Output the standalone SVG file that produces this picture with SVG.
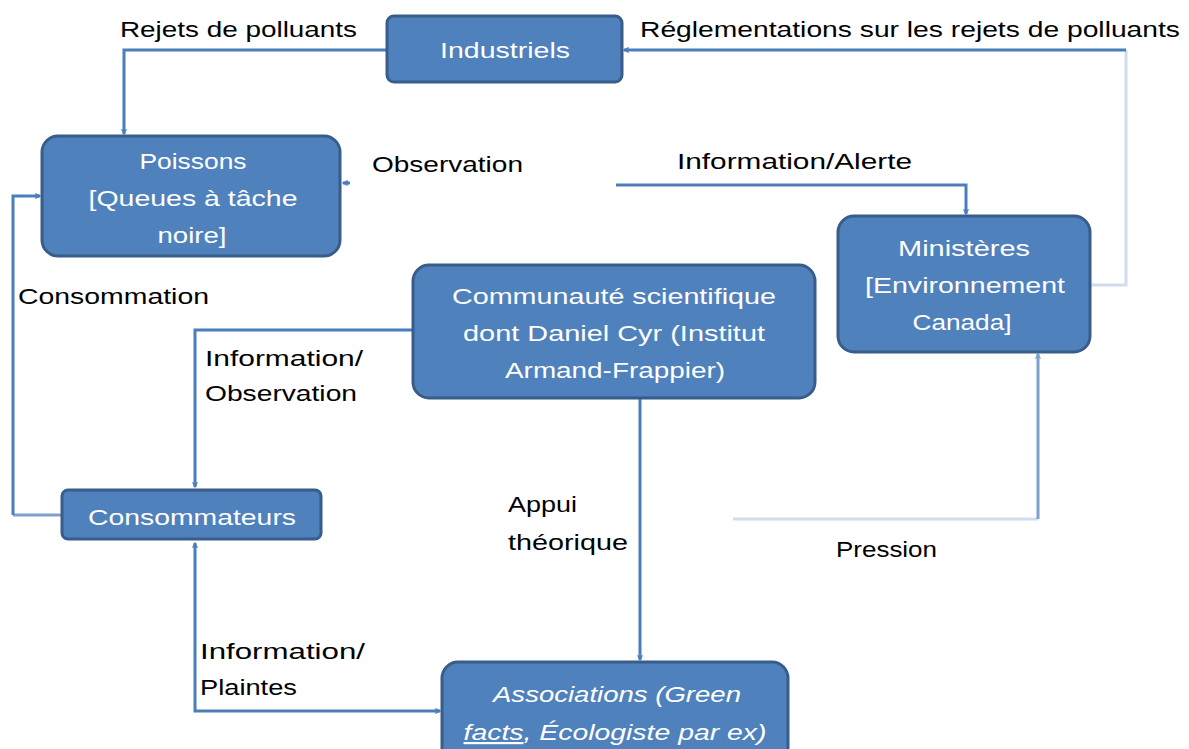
<svg xmlns="http://www.w3.org/2000/svg" width="1189" height="749" viewBox="0 0 1189 749">
<defs>
<marker id="arr" viewBox="0 0 10 10" refX="9" refY="5" markerWidth="6" markerHeight="6" orient="auto" markerUnits="userSpaceOnUse">
<path d="M1,1 L9,5 L1,9" fill="none" stroke="#4A7EBB" stroke-width="2"/>
</marker>
<marker id="arrL" viewBox="0 0 10 10" refX="9" refY="5" markerWidth="6" markerHeight="6" orient="auto" markerUnits="userSpaceOnUse">
<path d="M1,1 L9,5 L1,9" fill="none" stroke="#7FA0CC" stroke-width="2"/>
</marker>
<marker id="arrS" viewBox="0 0 10 10" refX="9" refY="5" markerWidth="6" markerHeight="6" orient="auto-start-reverse" markerUnits="userSpaceOnUse">
<path d="M1,1 L9,5 L1,9" fill="none" stroke="#4A7EBB" stroke-width="2"/>
</marker>
</defs>
<style>
.node{fill:#4F81BD;stroke:#385D8A;stroke-width:3}
.nt{font-family:"Liberation Sans",Arial,sans-serif;font-size:22px;fill:#FFFFFF;text-anchor:middle}
.lb{font-family:"Liberation Sans",Arial,sans-serif;font-size:22px;fill:#000000}
.c{fill:none;stroke:#4A7EBB;stroke-width:3}
.cm{fill:none;stroke:#7FA0CC;stroke-width:3}
.cl{fill:none;stroke:#D0DDEE;stroke-width:3}
</style>
<rect width="1189" height="749" fill="#FFFFFF"/>
<g id="connectors">
<path class="c" d="M387,50 H124 V134" marker-end="url(#arr)"/>
<path class="cl" d="M1090,285 H1126 V50"/>
<path class="c" d="M1126,50 H624" marker-end="url(#arr)"/>
<path class="c" d="M350,183 L343,183" marker-end="url(#arr)"/>
<path class="c" d="M616,185 H966 V214" marker-end="url(#arr)"/>
<path class="cm" d="M62,515 H13"/>
<path class="c" d="M13,515 V196 H40" marker-end="url(#arr)"/>
<path class="c" d="M413,330 H195 V487" marker-end="url(#arr)"/>
<path class="c" d="M195,543 V711 H440" marker-start="url(#arrS)" marker-end="url(#arrS)"/>
<path class="c" d="M640,398 V660" marker-end="url(#arr)"/>
<path class="cl" d="M733,519 H1038"/>
<path class="cm" d="M1038,519 V354" marker-end="url(#arrL)"/>
</g>
<g id="industriels">
<rect class="node" x="387" y="16" width="235" height="66" rx="7"/>
<text class="nt" x="505" y="58" textLength="130" lengthAdjust="spacingAndGlyphs">Industriels</text>
</g>
<g id="poissons">
<rect class="node" x="42" y="136" width="298" height="120" rx="16"/>
<text class="nt" x="193" y="169" textLength="107" lengthAdjust="spacingAndGlyphs">Poissons</text>
<text class="nt" x="193" y="206" textLength="209" lengthAdjust="spacingAndGlyphs">[Queues à tâche</text>
<text class="nt" x="192" y="243" textLength="69" lengthAdjust="spacingAndGlyphs">noire]</text>
</g>
<g id="ministeres">
<rect class="node" x="838" y="216" width="252" height="136" rx="16"/>
<text class="nt" x="964" y="256" textLength="132" lengthAdjust="spacingAndGlyphs">Ministères</text>
<text class="nt" x="965" y="293" textLength="200" lengthAdjust="spacingAndGlyphs">[Environnement</text>
<text class="nt" x="962" y="330" textLength="99" lengthAdjust="spacingAndGlyphs">Canada]</text>
</g>
<g id="communaute">
<rect class="node" x="413" y="265" width="402" height="133" rx="16"/>
<text class="nt" x="614" y="304" textLength="324" lengthAdjust="spacingAndGlyphs">Communauté scientifique</text>
<text class="nt" x="614" y="341" textLength="302" lengthAdjust="spacingAndGlyphs">dont Daniel Cyr (Institut</text>
<text class="nt" x="615" y="378" textLength="220" lengthAdjust="spacingAndGlyphs">Armand-Frappier)</text>
</g>
<g id="consommateurs">
<rect class="node" x="62" y="490" width="259" height="49" rx="6"/>
<text class="nt" x="192" y="525" textLength="208" lengthAdjust="spacingAndGlyphs">Consommateurs</text>
</g>
<g id="associations">
<rect class="node" x="442" y="662" width="346" height="110" rx="16"/>
<text class="nt" x="617" y="702" font-style="italic" textLength="248" lengthAdjust="spacingAndGlyphs">Associations (Green</text>
<text class="nt" x="615" y="740" font-style="italic" textLength="303" lengthAdjust="spacingAndGlyphs"><tspan text-decoration="underline">facts</tspan>, Écologiste par ex)</text>
</g>
<g id="labels">
<text class="lb" x="120" y="37" textLength="237" lengthAdjust="spacingAndGlyphs">Rejets de polluants</text>
<text class="lb" x="640" y="37" textLength="540" lengthAdjust="spacingAndGlyphs">Réglementations sur les rejets de polluants</text>
<text class="lb" x="372" y="172" textLength="151" lengthAdjust="spacingAndGlyphs">Observation</text>
<text class="lb" x="677" y="169" textLength="235" lengthAdjust="spacingAndGlyphs">Information/Alerte</text>
<text class="lb" x="18" y="304" textLength="191" lengthAdjust="spacingAndGlyphs">Consommation</text>
<text class="lb" x="205" y="366" textLength="158" lengthAdjust="spacingAndGlyphs">Information/</text>
<text class="lb" x="205" y="401" textLength="152" lengthAdjust="spacingAndGlyphs">Observation</text>
<text class="lb" x="508" y="512" textLength="69" lengthAdjust="spacingAndGlyphs">Appui</text>
<text class="lb" x="508" y="550" textLength="120" lengthAdjust="spacingAndGlyphs">théorique</text>
<text class="lb" x="836" y="557" textLength="101" lengthAdjust="spacingAndGlyphs">Pression</text>
<text class="lb" x="200" y="659" textLength="165" lengthAdjust="spacingAndGlyphs">Information/</text>
<text class="lb" x="200" y="695" textLength="97" lengthAdjust="spacingAndGlyphs">Plaintes</text>
</g>
</svg>
